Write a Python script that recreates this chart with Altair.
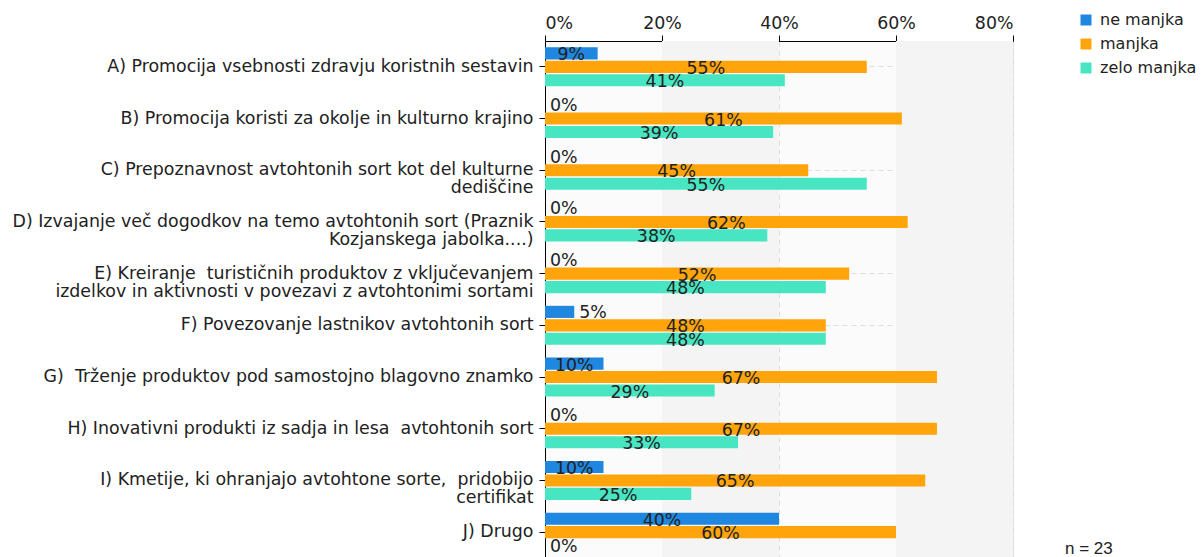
import altair as alt
import pandas as pd

categories = [
    "A) Promocija vsebnosti zdravju koristnih sestavin",
    "B) Promocija koristi za okolje in kulturno krajino",
    "C) Prepoznavnost avtohtonih sort kot del kulturne|dediščine",
    "D) Izvajanje več dogodkov na temo avtohtonih sort (Praznik|Kozjanskega jabolka....)",
    "E) Kreiranje\u00a0 turističnih produktov z vključevanjem |izdelkov in aktivnosti v povezavi z avtohtonimi sortami",
    "F) Povezovanje lastnikov avtohtonih sort",
    "G)\u00a0 Trženje produktov pod samostojno blagovno znamko",
    "H) Inovativni produkti iz sadja in lesa\u00a0 avtohtonih sort",
    "I) Kmetije, ki ohranjajo avtohtone sorte,\u00a0 pridobijo|certifikat",
    "J) Drugo",
]
series = ["ne manjka", "manjka", "zelo manjka"]
colors = ["#1f87e0", "#ffa40a", "#48e5c2"]
ne_manjka = [9, 0, 0, 0, 0, 5, 10, 0, 10, 40]
manjka = [55, 61, 45, 62, 52, 48, 67, 67, 65, 60]
zelo_manjka = [41, 39, 55, 38, 48, 48, 29, 33, 25, 0]
x_ticks = [0, 0.2, 0.4, 0.6, 0.8]
shade_start = [0.2, 0.6]
shade_end = [0.4, 0.8]
note = "n = 23"

rows = []
for s, vals in zip(series, [ne_manjka, manjka, zelo_manjka]):
    for c, v in zip(categories, vals):
        rows.append({"cat": c, "series": s, "value": v / 100.0, "label": f"{v}%"})
df = pd.DataFrame(rows)

FONT = "DejaVu Sans"
FS = 17.4

y_enc = alt.Y(
    "cat:N",
    sort=categories,
    scale=alt.Scale(domain=categories, paddingInner=0.245, paddingOuter=0.1225),
    axis=alt.Axis(
        title=None,
        labelExpr="split(datum.label, '|')",
        labelFont=FONT,
        labelFontSize=FS,
        labelColor="#222",
        labelLineHeight=18,
        labelPadding=6,
        labelLimit=600,
        tickColor="#000",
        tickSize=6,
        domainColor="#000",
        grid=True,
        gridColor="#dddddd",
        gridDash=[5, 4],
    ),
)
yoff = alt.YOffset("series:N", sort=series,
                   scale=alt.Scale(domain=series, paddingInner=0.1, paddingOuter=0))

bg = alt.Chart(pd.DataFrame({"s": shade_start, "e": shade_end})).mark_rect(
    color="#f4f4f4"
).encode(x=alt.X("s:Q"), x2="e:Q")

bars = alt.Chart(df).mark_bar().encode(
    x=alt.X(
        "value:Q",
        scale=alt.Scale(domain=[0, 0.8]),
        axis=alt.Axis(
            orient="top",
            format="%",
            values=x_ticks,
            title=None,
            labelFont=FONT,
            labelFontSize=FS,
            labelColor="#222",
            labelPadding=3,
            tickColor="#000",
            tickSize=6,
            domainColor="#000",
            gridColor="#dddddd",
            gridDash=[5, 4],
        ),
    ),
    y=y_enc,
    yOffset=yoff,
    color=alt.Color(
        "series:N",
        sort=series,
        scale=alt.Scale(domain=series, range=colors),
        legend=alt.Legend(
            title=None,
            orient="none",
            legendX=533,
            legendY=-29,
            symbolType="square",
            symbolSize=121,
            symbolStrokeWidth=0,
            labelFont=FONT,
            labelFontSize=16,
            labelColor="#222",
            rowPadding=8,
            labelOffset=6,
            labelLimit=200,
        ),
    ),
)

inside = alt.Chart(df).transform_filter("datum.value >= 0.08").transform_calculate(
    pos="datum.value / 2"
).mark_text(font=FONT, fontSize=FS, color="#222", align="center", baseline="middle", dy=2).encode(
    x="pos:Q", y=alt.Y("cat:N", sort=categories), yOffset=yoff, text="label:N"
)
outside = alt.Chart(df).transform_filter("datum.value < 0.08").mark_text(
    font=FONT, fontSize=FS, color="#222", align="left", baseline="middle", dx=5, dy=1
).encode(x="value:Q", y=alt.Y("cat:N", sort=categories), yOffset=yoff, text="label:N")

note_layer = alt.Chart(pd.DataFrame({"t": [note]})).mark_text(
    font="Liberation Sans", fontSize=17, color="#222", align="left", baseline="middle"
).encode(text="t:N", x=alt.value(520), y=alt.value(508))

chart = alt.layer(bg, bars, inside, outside, note_layer).properties(
    width=468,
    height=517,
    autosize=alt.AutoSizeParams(type="none"),
    padding={"left": 537, "top": 33, "right": 183, "bottom": 0},
).configure_view(stroke="#e6e6e6", fill="#fbfbfb")

chart.save("out.html", embed_options={"renderer": "svg", "actions": False})
